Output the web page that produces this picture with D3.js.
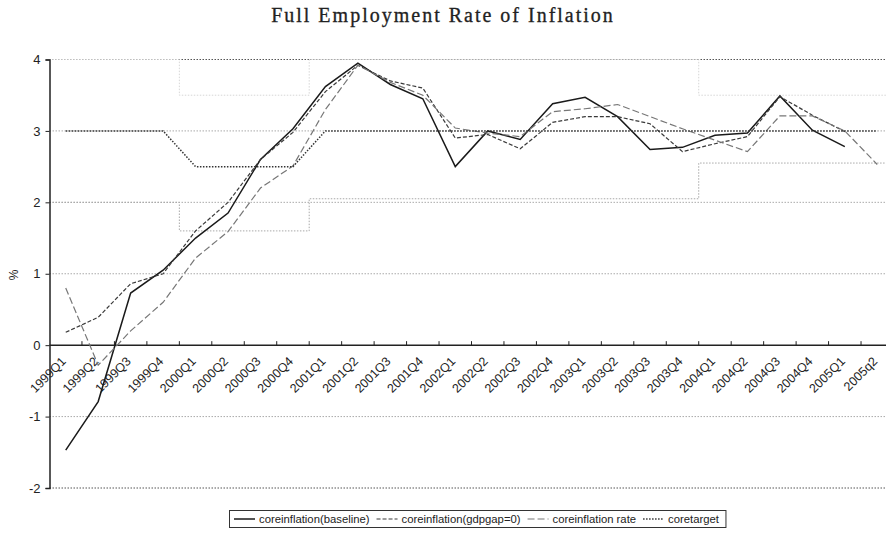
<!DOCTYPE html>
<html><head><meta charset="utf-8">
<script src="https://cdn.jsdelivr.net/npm/d3@7"></script>
<style>
html,body{margin:0;padding:0;background:#fff;}
svg{display:block;}
</style>
</head><body>
<svg id="chart" width="886" height="533"></svg>
<script>
const categories = ["1999Q1","1999Q2","1999Q3","1999Q4","2000Q1","2000Q2","2000Q3","2000Q4",
  "2001Q1","2001Q2","2001Q3","2001Q4","2002Q1","2002Q2","2002Q3","2002Q4",
  "2003Q1","2003Q2","2003Q3","2003Q4","2004Q1","2004Q2","2004Q3","2004Q4","2005Q1","2005q2"];
const baseline = [-1.47,-0.79,0.73,1.05,1.5,1.85,2.6,3.03,3.62,3.95,3.65,3.45,2.5,3.0,2.88,3.38,
  3.47,3.2,2.74,2.77,2.94,2.97,3.49,3.01,2.78,null];
const gdpgapZero = [0.18,0.39,0.86,1.0,1.6,2.0,2.6,2.98,3.55,3.92,3.7,3.6,2.9,2.95,2.75,3.12,
  3.2,3.2,3.1,2.71,2.82,2.92,3.48,3.22,2.99,null];
const coreRate = [0.8,-0.28,0.2,0.6,1.22,1.59,2.2,2.51,3.3,3.92,3.68,3.5,3.04,2.97,2.92,3.27,
  3.31,3.37,3.2,3.03,2.87,2.71,3.21,3.21,3.0,2.53];
const coreTarget = [3,3,3,3,2.5,2.5,2.5,2.5,3,3,3,3,3,3,3,3,3,3,3,3,3,3,3,3,3,3];
const bandUpper = [4,4,4,4,3.5,3.5,3.5,3.5,4,4,4,4,4,4,4,4,4,4,4,4,3.5,3.5,3.5,3.5,3.5,3.5];
const bandLower = [2,2,2,2,1.6,1.6,1.6,1.6,2.05,2.05,2.05,2.05,2.05,2.05,2.05,2.05,2.05,2.05,2.05,2.05,2.55,2.55,2.55,2.55,2.55,2.55];
const yTicks = [-2,-1,0,1,2,3,4];
const legendLabels = ["coreinflation(baseline)","coreinflation(gdpgap=0)","coreinflation rate","coretarget"];

const svg = d3.select("#chart");
const FONT = "'Liberation Sans', Arial, sans-serif";
const x = d3.scaleBand().domain(categories).range([49.5, 893.5]);
const y = d3.scaleLinear().domain([-2, 4]).range([488, 59.5]);
const bw = x.bandwidth();
const cx = c => x(c) + bw / 2;
const plotRight = 886;

// Title
svg.append("text").attr("x", 443).attr("y", 22).attr("text-anchor", "middle")
  .attr("font-family", "'Liberation Serif','DejaVu Serif',serif").attr("font-size", 20)
  .attr("letter-spacing", 2).attr("fill", "#222").attr("stroke", "#222").attr("stroke-width", 0.3)
  .text("Full Employment Rate of Inflation");

// gridlines
svg.append("g").selectAll("line").data(yTicks.filter(d => d !== 0)).join("line")
  .attr("x1", 49.5).attr("x2", plotRight).attr("y1", d => y(d)).attr("y2", d => y(d))
  .attr("stroke", d => (d === 4 || d === -2) ? "#555" : "#aaa").attr("stroke-width", 1)
  .attr("stroke-dasharray", "1.5,1.5");

// target band (faint step lines)
function stepPath(vals) {
  const pts = [];
  vals.forEach((v, i) => { pts.push([x(categories[i]), y(v)]); pts.push([x(categories[i]) + bw, y(v)]); });
  return d3.line()(pts);
}
[[bandUpper, "#d6d6d6"], [bandLower, "#a8a8a8"]].forEach(([b, col]) => {
  svg.append("path").attr("d", stepPath(b)).attr("fill", "none").attr("stroke", col)
    .attr("stroke-width", 1).attr("stroke-dasharray", "1.5,1.5");
});

// y axis
const yAxis = svg.append("g").attr("transform", "translate(49.5,0)")
  .call(d3.axisLeft(y).tickValues(yTicks).tickSize(4).tickFormat(d => String(d)));
yAxis.select(".domain").attr("stroke", "#222").attr("stroke-width", 1.5);
yAxis.selectAll(".tick line").attr("stroke", "#222");
yAxis.selectAll(".tick text").attr("font-family", FONT).attr("font-size", 13).attr("fill", "#222").attr("x", -9);

// x axis at zero
const xg = svg.append("g");
xg.append("line").attr("x1", 49.5).attr("x2", plotRight).attr("y1", y(0)).attr("y2", y(0))
  .attr("stroke", "#222").attr("stroke-width", 1.5);
xg.selectAll("line.tk").data(categories.slice(1)).join("line").attr("class", "tk")
  .attr("x1", d => x(d)).attr("x2", d => x(d)).attr("y1", y(0)).attr("y2", y(0) - 4)
  .attr("stroke", "#222");
xg.selectAll("text").data(categories).join("text")
  .attr("transform", d => `translate(${cx(d) + 1},${y(0) + 17}) rotate(-45)`)
  .attr("text-anchor", "end").attr("font-family", FONT).attr("font-size", 12.5).attr("fill", "#222")
  .text(d => d);

// % label
svg.append("text").attr("transform", "translate(18,275) rotate(-90)").attr("text-anchor", "middle")
  .attr("font-family", FONT).attr("font-size", 12).attr("fill", "#222").text("%");

// series
const line = d3.line().defined(d => d[1] !== null).x(d => cx(d[0])).y(d => y(d[1]));
const series = [
  {vals: baseline, color: "#1a1a1a", w: 1.5, dash: null},
  {vals: gdpgapZero, color: "#3a3a3a", w: 1.2, dash: "4,2"},
  {vals: coreRate, color: "#777", w: 1.2, dash: "7,3"},
  {vals: coreTarget, color: "#333", w: 1.5, dash: "1.5,1.5"}
];
series.forEach(s => {
  svg.append("path").datum(categories.map((c, i) => [c, s.vals[i]]))
    .attr("d", line).attr("fill", "none").attr("stroke", s.color).attr("stroke-width", s.w)
    .attr("stroke-dasharray", s.dash);
});

// legend
const lg = svg.append("g");
const box = lg.append("rect").attr("x", 229.5).attr("y", 510.5).attr("width", 508).attr("height", 17)
  .attr("fill", "#fff").attr("stroke", "#333").attr("stroke-width", 1);
let lx = 234;
series.forEach((s, i) => {
  lg.append("line").attr("x1", lx).attr("x2", lx + 21).attr("y1", 519).attr("y2", 519)
    .attr("stroke", s.color).attr("stroke-width", s.w).attr("stroke-dasharray", s.dash);
  const t = lg.append("text").attr("x", lx + 25).attr("y", 523).attr("font-family", FONT)
    .attr("font-size", 11.3).attr("fill", "#222").text(legendLabels[i]);
  lx += 25 + t.node().getComputedTextLength() + 7;
});
box.attr("width", lx - 229.5);
</script>
</body></html>
